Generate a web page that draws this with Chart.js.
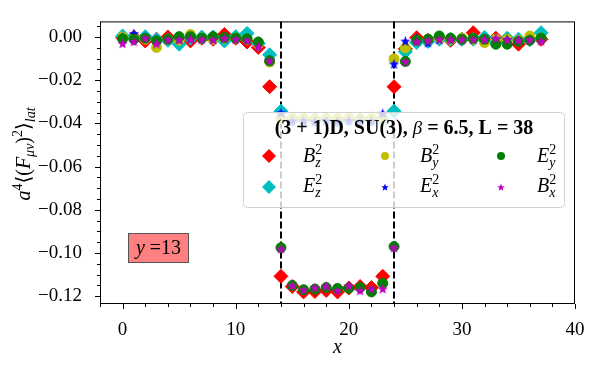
<!DOCTYPE html>
<html>
<head>
<meta charset="utf-8">
<script src="https://cdn.jsdelivr.net/npm/chart.js@4"></script>
<style>
body { margin: 0; background: #fff; }
canvas { display: block; }
</style>
</head>
<body>
<canvas id="grafico" width="600" height="370"></canvas>
<script>
// posicao x na rede (L = 38)
const posicoes = [0,1,2,3,4,5,6,7,8,9,10,11,12,13,14,15,16,17,18,19,20,21,22,23,24,25,26,27,28,29,30,31,32,33,34,35,36,37]

const bz = [-0.0003,0.0000,-0.0018,-0.0010,0.0000,-0.0010,-0.0018,-0.0005,-0.0010,0.0012,-0.0005,-0.0023,-0.0048,-0.0230,
    -0.1108,-0.1155,-0.1180,-0.1178,-0.1173,-0.1180,-0.1162,-0.1155,-0.1160,-0.1108,
    -0.0230,-0.0055,-0.0003,-0.0015,-0.0005,-0.0015,-0.0010,0.0020,-0.0010,-0.0005,-0.0010,-0.0033,-0.0010,-0.0010]
const ez = [0.0005,-0.0005,0.0002,-0.0012,-0.0015,-0.0033,-0.0005,0.0000,0.0000,-0.0018,0.0002,0.0017,-0.0030,-0.0082,
    -0.0343,-0.0382,-0.0380,-0.0384,-0.0381,-0.0385,-0.0380,-0.0383,-0.0381,-0.0378,
    -0.0343,-0.0068,-0.0025,-0.0020,-0.0010,-0.0010,-0.0010,-0.0010,-0.0002,-0.0023,-0.0005,-0.0010,-0.0012,0.0020]
const by = [0.0000,-0.0005,-0.0010,-0.0048,-0.0010,-0.0015,0.0012,-0.0005,-0.0010,-0.0005,-0.0005,-0.0010,-0.0035,-0.0116,
    -0.0375,-0.0378,-0.0376,-0.0380,-0.0377,-0.0379,-0.0376,-0.0380,-0.0377,-0.0372,
    -0.0101,-0.0050,-0.0015,-0.0010,-0.0005,-0.0010,-0.0005,-0.0010,-0.0026,-0.0010,-0.0010,-0.0015,0.0005,-0.0005]
const ex = [0.0000,0.0017,-0.0005,-0.0010,-0.0005,-0.0010,-0.0005,-0.0005,-0.0010,-0.0005,-0.0005,-0.0010,-0.0035,-0.0105,
    -0.0350,-0.0388,-0.0386,-0.0390,-0.0387,-0.0389,-0.0386,-0.0390,-0.0387,-0.0353,
    -0.0124,-0.0018,-0.0005,-0.0026,-0.0010,-0.0008,-0.0012,-0.0010,-0.0010,-0.0008,-0.0010,-0.0012,-0.0010,-0.0010]
const ey = [-0.0008,-0.0010,-0.0005,-0.0018,-0.0010,0.0002,0.0002,-0.0005,0.0002,-0.0002,-0.0005,-0.0008,-0.0023,-0.0110,
    -0.0975,-0.1150,-0.1170,-0.1167,-0.1160,-0.1164,-0.1163,-0.1160,-0.1180,-0.1140,
    -0.0970,-0.0113,-0.0015,-0.0010,0.0005,-0.0005,-0.0010,-0.0005,-0.0010,-0.0033,-0.0033,-0.0020,-0.0015,-0.0005]
const bx = [-0.0029,-0.0020,-0.0005,-0.0030,-0.0012,-0.0012,-0.0010,-0.0010,-0.0012,-0.0005,-0.0010,-0.0015,-0.0044,-0.0109,
    -0.0980,-0.1150,-0.1170,-0.1160,-0.1153,-0.1173,-0.1150,-0.1173,-0.1165,-0.1165,
    -0.0975,-0.0113,-0.0020,-0.0015,-0.0010,-0.0012,-0.0010,-0.0010,-0.0010,-0.0005,-0.0012,-0.0014,-0.0012,-0.0018]

const paredes = [14, 24]

const serif = "'Liberation Serif', 'DejaVu Serif', serif"

function estrela(cor, r) {
    const c = document.createElement('canvas')
    const s = Math.ceil(r * 2 + 2)
    c.width = s
    c.height = s
    const g = c.getContext('2d')
    g.beginPath()
    for (let i = 0; i < 10; i++) {
        const rr = i % 2 ? r * 0.42 : r
        const a = -Math.PI / 2 + i * Math.PI / 5
        g.lineTo(s / 2 + rr * Math.cos(a), s / 2 + 0.6 + rr * Math.sin(a))
    }
    g.closePath()
    g.fillStyle = cor
    g.fill()
    return c
}

function serie(dados, cor, estilo, raio, ordem) {
    return {
        data: posicoes.map((x, i) => ({ x: x, y: dados[i] })),
        backgroundColor: cor,
        borderColor: cor,
        borderWidth: 1,
        pointStyle: estilo,
        pointRadius: raio,
        showLine: false,
        order: ordem
    }
}

// escreve texto com pedacos (indices, italico)
function escrever(ctx, partes, x, y, medir) {
    let cx = x
    for (const p of partes) {
        ctx.font = p.f
        if (!medir) ctx.fillText(p.t, cx, y + (p.dy || 0))
        if (!p.junto) cx += ctx.measureText(p.t).width
    }
    return cx - x
}

const it = `italic 20px ${serif}`
const rm = `20px ${serif}`
const itP = `italic 14px ${serif}`
const rmP = `14px ${serif}`
const bf = `bold 20px ${serif}`

function simbolo(letra, indice) {
    return [
        { t: letra, f: it },
        { t: '2', f: rmP, dy: -8, junto: true },
        { t: indice, f: itP, dy: 5 }
    ]
}

const legendaItens = [
    { cor: '#ff0000', forma: 'losango', partes: simbolo('B', 'z') },
    { cor: '#bfbf00', forma: 'circulo', partes: simbolo('B', 'y') },
    { cor: '#008000', forma: 'circulo', partes: simbolo('E', 'y') },
    { cor: '#00bfbf', forma: 'losango', partes: simbolo('E', 'z') },
    { cor: '#0000ff', forma: 'estrela', partes: simbolo('E', 'x') },
    { cor: '#bf00bf', forma: 'estrela', partes: simbolo('B', 'x') }
]

const decoracao = {
    id: 'decoracao',
    beforeDatasetsDraw(chart) {
        const ctx = chart.ctx
        const area = chart.chartArea
        const sx = chart.scales.x
        ctx.save()
        ctx.strokeStyle = '#000'
        ctx.lineWidth = 2
        ctx.setLineDash([7, 3])
        paredes.forEach(p => {
            const px = Math.round(sx.getPixelForValue(p))
            ctx.beginPath()
            ctx.moveTo(px, area.top)
            ctx.lineTo(px, area.bottom)
            ctx.stroke()
        })
        ctx.restore()
    },
    afterDraw(chart) {
        const ctx = chart.ctx
        const area = chart.chartArea
        const sx = chart.scales.x
        const sy = chart.scales.y
        ctx.save()

        // caixa y = 13
        ctx.fillStyle = '#ff8080'
        ctx.fillRect(128, 233, 61, 30)
        ctx.strokeStyle = '#555'
        ctx.lineWidth = 1
        ctx.strokeRect(128.5, 233.5, 60, 29)
        ctx.fillStyle = '#000'
        ctx.textBaseline = 'alphabetic'
        const caixa = [{ t: 'y', f: it }, { t: ' =13', f: rm }]
        const wc = escrever(ctx, caixa, 0, 0, true)
        escrever(ctx, caixa, 158.5 - wc / 2, 254)

        // legenda
        ctx.beginPath()
        ctx.roundRect(243.5, 112.5, 321, 95, 4)
        ctx.fillStyle = 'rgba(255,255,255,0.8)'
        ctx.fill()
        ctx.strokeStyle = '#d0d0d0'
        ctx.stroke()
        ctx.fillStyle = '#000'
        const titulo = [
            { t: '(3 + 1)D, SU(3), ', f: bf },
            { t: 'β', f: `italic 19px ${serif}` },
            { t: ' = 6.5, L = 38', f: bf }
        ]
        const wt = escrever(ctx, titulo, 0, 0, true)
        escrever(ctx, titulo, 404 - wt / 2, 134)

        const colMarca = [269, 385, 501]
        const colTexto = [303, 420, 537]
        const linhaMarca = [156, 187]
        const linhaTexto = [162, 192]
        legendaItens.forEach((item, i) => {
            const c = i % 3
            const l = Math.floor(i / 3)
            const mx = colMarca[c]
            const my = linhaMarca[l]
            ctx.fillStyle = item.cor
            if (item.forma == 'losango') {
                ctx.beginPath()
                ctx.moveTo(mx - 7, my)
                ctx.lineTo(mx, my - 7)
                ctx.lineTo(mx + 7, my)
                ctx.lineTo(mx, my + 7)
                ctx.closePath()
                ctx.fill()
            } else if (item.forma == 'circulo') {
                ctx.beginPath()
                ctx.arc(mx, my, 4, 0, Math.PI * 2)
                ctx.fill()
            } else {
                const e = estrela(item.cor, 4)
                ctx.drawImage(e, mx - e.width / 2, my - e.height / 2)
            }
            ctx.fillStyle = '#000'
            escrever(ctx, item.partes, colTexto[c], linhaTexto[l])
        })

        // moldura e marcas dos eixos
        ctx.strokeStyle = '#000'
        ctx.lineWidth = 1
        ctx.strokeRect(area.left + 0.5, area.top + 0.5, area.right - area.left - 1, area.bottom - area.top - 1)
        ctx.beginPath()
        sx.ticks.forEach(t => {
            const px = Math.round(sx.getPixelForValue(t.value)) + 0.5
            const tam = t.value % 10 === 0 ? 5 : 3
            ctx.moveTo(px, area.bottom)
            ctx.lineTo(px, area.bottom + tam)
        })
        sy.ticks.forEach(t => {
            const py = Math.round(sy.getPixelForValue(t.value)) + 0.5
            const maior = Math.abs(Math.round(t.value / 0.02) * 0.02 - t.value) < 1e-9
            const tam = maior ? 5 : 3
            ctx.moveTo(area.left, py)
            ctx.lineTo(area.left - tam, py)
        })
        ctx.stroke()

        // rotulo do eixo y
        const rotulo = [
            { t: 'a', f: it },
            { t: '4', f: rmP, dy: -8 },
            { t: '⟨(', f: rm },
            { t: 'F', f: it },
            { t: 'μν', f: itP, dy: 4 },
            { t: ')', f: rm },
            { t: '2', f: rmP, dy: -8 },
            { t: '⟩', f: rm },
            { t: 'lat', f: itP, dy: 5 }
        ]
        const wr = escrever(ctx, rotulo, 0, 0, true)
        ctx.translate(30, 154)
        ctx.rotate(-Math.PI / 2)
        escrever(ctx, rotulo, -wr / 2, 0)
        ctx.setTransform(1, 0, 0, 1, 0, 0)

        // rotulo do eixo x
        ctx.font = it
        ctx.textAlign = 'center'
        ctx.fillText('x', (area.left + area.right) / 2, 353)
        ctx.restore()
    }
}

const rotuloNum = v => (v < 0 ? '\u2212' : '') + Math.abs(v).toFixed(2)

let grafico = new Chart(
    document.getElementById('grafico'),
    {
        type: 'scatter',
        data: {
            datasets: [
                serie(bz, '#ff0000', 'rectRot', 7, 6),
                serie(ez, '#00bfbf', 'rectRot', 7, 5),
                serie(by, '#bfbf00', 'circle', 5, 4),
                serie(ex, '#0000ff', estrela('#0000ff', 5.5), 5, 3),
                serie(ey, '#008000', 'circle', 5, 2),
                serie(bx, '#bf00bf', estrela('#bf00bf', 5.5), 5, 1)
            ]
        },
        options: {
            responsive: false,
            animation: false,
            layout: { padding: { top: 15, right: 25, left: 0, bottom: 0 } },
            plugins: {
                legend: { display: false },
                tooltip: { enabled: false }
            },
            scales: {
                x: {
                    type: 'linear',
                    min: -2,
                    max: 40,
                    afterFit: s => { s.height = 66 },
                    grid: { display: false },
                    border: { display: false },
                    ticks: {
                        stepSize: 2,
                        autoSkip: false,
                        maxRotation: 0,
                        includeBounds: false,
                        padding: 7,
                        color: '#000',
                        font: { family: serif, size: 19 },
                        callback: v => v % 10 === 0 ? String(v) : ''
                    }
                },
                y: {
                    min: -0.1236,
                    max: 0.00725,
                    afterFit: s => { s.width = 100 },
                    grid: { display: false },
                    border: { display: false },
                    ticks: {
                        stepSize: 0.005,
                        autoSkip: false,
                        includeBounds: false,
                        padding: 10,
                        color: '#000',
                        font: { family: serif, size: 19 },
                        callback: v => Math.abs(Math.round(v / 0.02) * 0.02 - v) < 1e-9 ? rotuloNum(v) : ''
                    }
                }
            }
        },
        plugins: [decoracao]
    }
)
</script>
</body>
</html>
